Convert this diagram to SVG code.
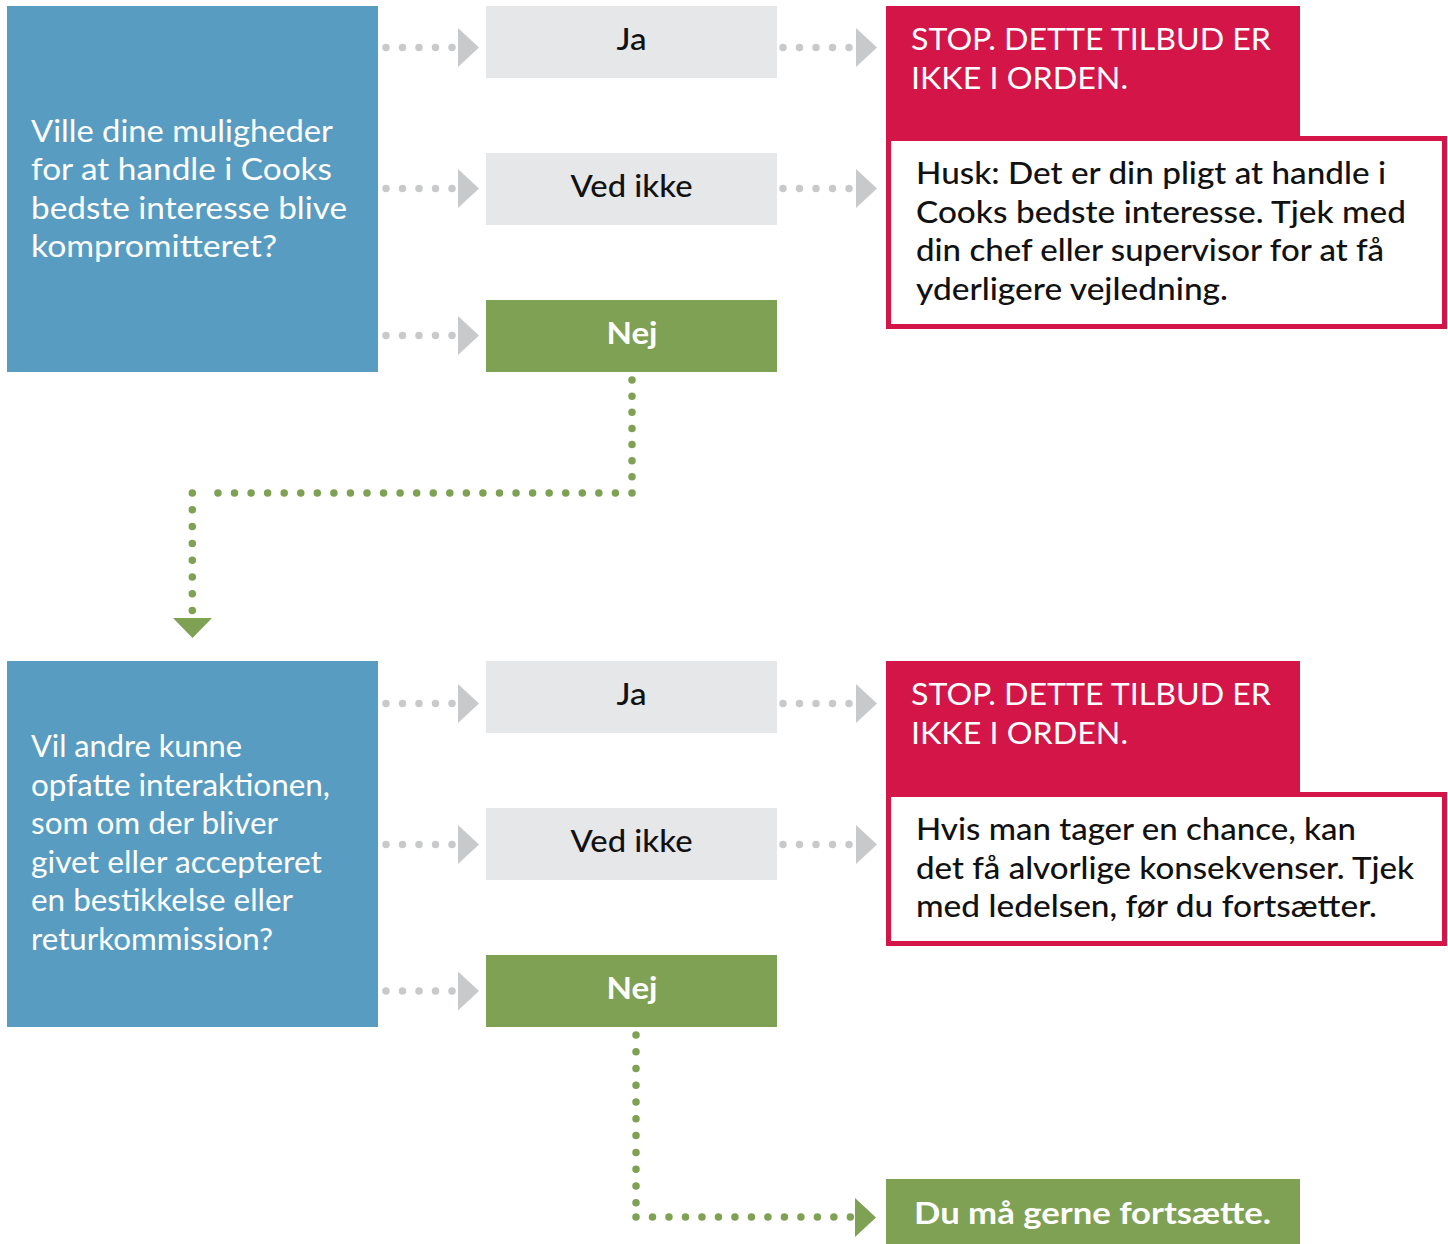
<svg xmlns="http://www.w3.org/2000/svg" width="1448" height="1244" viewBox="0 0 1448 1244">
<style>
text{font-family:Lato,"Open Sans","Liberation Sans",sans-serif;font-size:30px}
.q{fill:#ffffff;font-weight:400}
.hd{fill:#ffffff;font-weight:400}
.bd{fill:#111111;font-weight:500}
.opt{fill:#111111;font-weight:500;text-anchor:middle}
.bold{fill:#ffffff;font-weight:700}
.blue{fill:#599cc1}
.grey{fill:#e6e7e8}
.green{fill:#7ea154}
.red{fill:#d31548}
.redbox{fill:#ffffff;stroke:#d31548;stroke-width:5}
.gdots{fill:none;stroke:#c8c9cb;stroke-width:7.5;stroke-linecap:round;stroke-dasharray:0 16.5}
.gnd{fill:none;stroke:#7ea154;stroke-width:7.5;stroke-linecap:round}
.gh{fill:#c8c9cb}
.ga{fill:#7ea154}
</style>
<defs>
<polygon id="ah" points="0,-19.5 21,0 0,19.5"/>
</defs>

<g id="q1">
<rect class="blue" x="7" y="6" width="371" height="366"/>
<text class="q" x="31" y="141.5" textLength="302" lengthAdjust="spacingAndGlyphs">Ville dine muligheder</text>
<text class="q" x="31" y="180" textLength="301" lengthAdjust="spacingAndGlyphs">for at handle i Cooks</text>
<text class="q" x="31" y="218.5" textLength="316" lengthAdjust="spacingAndGlyphs">bedste interesse blive</text>
<text class="q" x="31" y="257" textLength="246" lengthAdjust="spacingAndGlyphs">kompromitteret?</text>
</g>
<g id="q1-ja">
<rect class="grey" x="486" y="6" width="291" height="72"/>
<text class="opt" x="631.5" y="50" textLength="30" lengthAdjust="spacingAndGlyphs">Ja</text>
</g>
<g id="q1-vedikke">
<rect class="grey" x="486" y="153" width="291" height="72"/>
<text class="opt" x="631.5" y="197" textLength="122" lengthAdjust="spacingAndGlyphs">Ved ikke</text>
</g>
<g id="q1-nej">
<rect class="green" x="486" y="300" width="291" height="72"/>
<text class="bold" x="632" y="343.5" text-anchor="middle" textLength="51" lengthAdjust="spacingAndGlyphs">Nej</text>
</g>
<g id="stop1">
<rect class="red" x="886" y="6" width="414" height="132"/>
<text class="hd" x="911" y="50" textLength="360" lengthAdjust="spacingAndGlyphs">STOP. DETTE TILBUD ER</text>
<text class="hd" x="911" y="88.5" textLength="217" lengthAdjust="spacingAndGlyphs">IKKE I ORDEN.</text>
<rect class="redbox" x="888.5" y="138.5" width="556" height="188"/>
<text class="bd" x="916" y="184" textLength="470" lengthAdjust="spacingAndGlyphs">Husk: Det er din pligt at handle i</text>
<text class="bd" x="916" y="222.5" textLength="490" lengthAdjust="spacingAndGlyphs">Cooks bedste interesse. Tjek med</text>
<text class="bd" x="916" y="261" textLength="468" lengthAdjust="spacingAndGlyphs">din chef eller supervisor for at få</text>
<text class="bd" x="916" y="299.5" textLength="312" lengthAdjust="spacingAndGlyphs">yderligere vejledning.</text>
</g>

<g id="q2">
<rect class="blue" x="7" y="661" width="371" height="366"/>
<text class="q" x="31" y="757" textLength="211" lengthAdjust="spacingAndGlyphs">Vil andre kunne</text>
<text class="q" x="31" y="795.5" textLength="299" lengthAdjust="spacingAndGlyphs">opfatte interaktionen,</text>
<text class="q" x="31" y="834" textLength="247" lengthAdjust="spacingAndGlyphs">som om der bliver</text>
<text class="q" x="31" y="872.5" textLength="291" lengthAdjust="spacingAndGlyphs">givet eller accepteret</text>
<text class="q" x="31" y="911" textLength="262" lengthAdjust="spacingAndGlyphs">en bestikkelse eller</text>
<text class="q" x="31" y="949.5" textLength="242" lengthAdjust="spacingAndGlyphs">returkommission?</text>
</g>
<g id="q2-ja">
<rect class="grey" x="486" y="661" width="291" height="72"/>
<text class="opt" x="631.5" y="705" textLength="30" lengthAdjust="spacingAndGlyphs">Ja</text>
</g>
<g id="q2-vedikke">
<rect class="grey" x="486" y="808" width="291" height="72"/>
<text class="opt" x="631.5" y="852" textLength="122" lengthAdjust="spacingAndGlyphs">Ved ikke</text>
</g>
<g id="q2-nej">
<rect class="green" x="486" y="955" width="291" height="72"/>
<text class="bold" x="632" y="998.5" text-anchor="middle" textLength="51" lengthAdjust="spacingAndGlyphs">Nej</text>
</g>
<g id="stop2">
<rect class="red" x="886" y="661" width="414" height="133"/>
<text class="hd" x="911" y="705" textLength="360" lengthAdjust="spacingAndGlyphs">STOP. DETTE TILBUD ER</text>
<text class="hd" x="911" y="743.5" textLength="217" lengthAdjust="spacingAndGlyphs">IKKE I ORDEN.</text>
<rect class="redbox" x="888.5" y="794.5" width="556" height="149"/>
<text class="bd" x="916" y="840" textLength="440" lengthAdjust="spacingAndGlyphs">Hvis man tager en chance, kan</text>
<text class="bd" x="916" y="878.5" textLength="498" lengthAdjust="spacingAndGlyphs">det få alvorlige konsekvenser. Tjek</text>
<text class="bd" x="916" y="917" textLength="461" lengthAdjust="spacingAndGlyphs">med ledelsen, før du fortsætter.</text>
</g>

<g id="continue">
<rect class="green" x="886" y="1179" width="414" height="65"/>
<text class="bold" x="914" y="1223.5" textLength="357" lengthAdjust="spacingAndGlyphs">Du må gerne fortsætte.</text>
</g>

<g id="connectors">
<path class="gdots" d="M386 47.5H452.5M386 188.5H452.5M386 335.5H452.5M386 703.5H452.5M386 844.5H452.5M386 991H452.5"/>
<path class="gdots" d="M783 47.5H849.5M783 188.5H849.5M783 703.5H849.5M783 844.5H849.5"/>
<use href="#ah" class="gh" x="458" y="47.5"/>
<use href="#ah" class="gh" x="458" y="188.5"/>
<use href="#ah" class="gh" x="458" y="335.5"/>
<use href="#ah" class="gh" x="458" y="703.5"/>
<use href="#ah" class="gh" x="458" y="844.5"/>
<use href="#ah" class="gh" x="458" y="991"/>
<use href="#ah" class="gh" x="856" y="47.5"/>
<use href="#ah" class="gh" x="856" y="188.5"/>
<use href="#ah" class="gh" x="856" y="703.5"/>
<use href="#ah" class="gh" x="856" y="844.5"/>

<path class="gnd" stroke-dasharray="0 16.14" d="M632 380V493"/>
<path class="gnd" stroke-dasharray="0 16.56" d="M615.4 493H201.5"/>
<path class="gnd" stroke-dasharray="0 16.8" d="M192.3 493V611"/>
<polygon class="ga" points="173,618 212,618 192.5,638"/>

<path class="gnd" stroke-dasharray="0 16.77" d="M636 1035V1203"/>
<path class="gnd" stroke-dasharray="0 16.49" d="M636 1217H851"/>
<polygon class="ga" points="855,1198 876,1217.5 855,1237"/>
</g>
</svg>
